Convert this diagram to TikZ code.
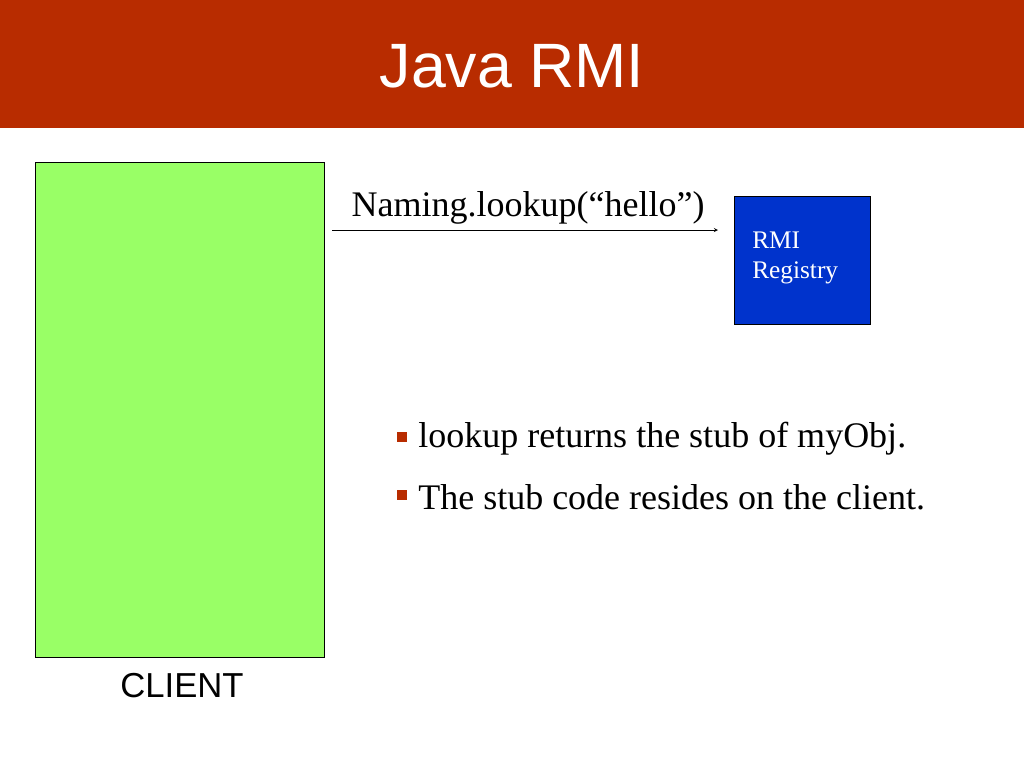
\documentclass[tikz,border=0pt]{standalone}
\usepackage{fontspec}
\setmainfont{Liberation Serif}
\newfontfamily\arial{Liberation Sans}
\usetikzlibrary{positioning}
\definecolor{titlered}{HTML}{B82C00}
\definecolor{clientgreen}{HTML}{99FF66}
\definecolor{regblue}{HTML}{0033CC}
\tikzset{
  bullettext/.style={anchor=west, inner sep=0pt, font=\fontsize{27}{30}\selectfont},
  bulletmark/.style={fill=titlered, minimum size=7pt, inner sep=0pt}
}
\begin{document}
\begin{tikzpicture}[x=0.75pt, y=-0.75pt]
  \useasboundingbox (0,0) rectangle (1024,768);
  \fill[titlered] (0,0) rectangle (1024,128);
  \node (title) at (512,66) {\arial\color{white}\fontsize{47}{50}\selectfont Java RMI};

  \node (client) [draw, fill=clientgreen, anchor=north west, minimum width=217pt,
    minimum height=371pt, inner sep=0pt] at (35,162) {};
  \node (clientlbl) at (182,686) {\arial\fontsize{26}{30}\selectfont CLIENT};

  \node (registry) [draw, fill=regblue, anchor=north west, minimum width=102pt,
    minimum height=96pt, inner sep=0pt] at (734,196) {};
  \node (reglbl) [anchor=north west, align=left, text=white, inner sep=0pt,
    font=\fontsize{19}{22.5}\selectfont] at (752,232) {RMI\\Registry};

  \coordinate (callstart) at (332,230);
  \coordinate (callend) at (718,230);
  \draw[-stealth] (callstart) -- (callend);
  \node (call) at (528,208) {\fontsize{27}{30}\selectfont Naming.lookup(“hello”)};

  \node (b1) [bulletmark] at (402,437) {};
  \node (t1) [bullettext] at (418,439) {lookup returns the stub of myObj.};
  \node (b2) [bulletmark] at (402,495) {};
  \node (t2) [bullettext] at (418,497) {The stub code resides on the client.};
\end{tikzpicture}
\end{document}
